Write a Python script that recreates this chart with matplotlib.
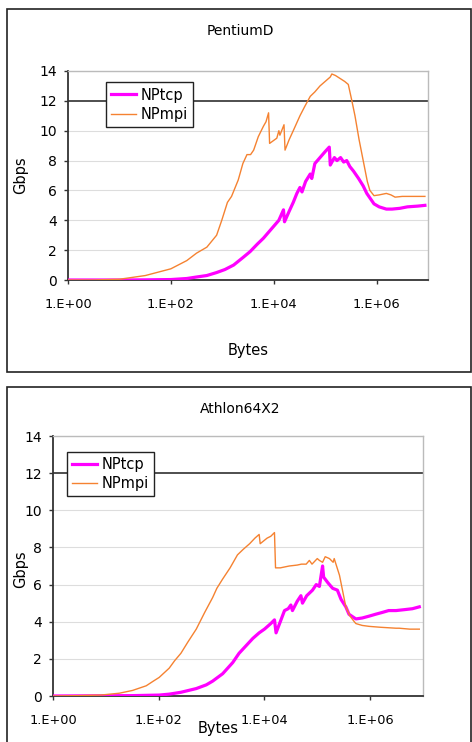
import matplotlib
matplotlib.use('Agg')
import matplotlib.pyplot as plt
from matplotlib.patches import Rectangle

plt.rcParams['font.family'] = ['DejaVu Sans']

# PentiumD
pd_mpi_bytes = [1, 3, 10, 32, 100, 204, 316, 501, 776, 977, 1259, 1514, 2042, 2512,
                 3020, 3548, 4074, 5012, 6310, 7079, 7943, 8318, 11482, 12589, 13183,
                 15849, 16596, 19953, 23988, 32359, 39811, 51286, 63096, 79433, 100000,
                 125893, 134896, 158489, 194984, 239883, 281838, 331131, 380189, 457088,
                 549541, 660693, 741310, 891251, 1122018, 1548817, 1905461, 2290868,
                 3162278, 4466836, 6309573, 8709636]
pd_mpi_gbps = [0, 0.0, 0.05, 0.3, 0.75, 1.3, 1.8, 2.2, 3.0, 4.0, 5.2, 5.6, 6.7, 7.8,
               8.4, 8.4, 8.7, 9.6, 10.3, 10.6, 11.2, 9.15, 9.5, 10.0, 9.7,
               10.4, 8.7, 9.4, 10.0, 11.0, 11.6, 12.3, 12.6, 13.0, 13.3,
               13.6, 13.8, 13.7, 13.5, 13.3, 13.1, 12.0, 11.0, 9.4,
               8.0, 6.6, 6.0, 5.65, 5.7, 5.8, 5.7, 5.55,
               5.6, 5.6, 5.6, 5.6]

pd_tcp_bytes = [1, 10, 32, 100, 204, 316, 501, 776, 1122, 1660, 2512, 3467, 4786, 6310,
                7943, 10000, 12589, 15488, 16218, 19953, 23988, 28184, 32359, 35481,
                41687, 51286, 54954, 63096, 79433, 100000, 120226, 125893, 151356,
                169824, 199526, 229087, 263027, 301995, 354813, 446684, 549541, 645654,
                741310, 891251, 1122018, 1548817, 1995262, 2818383, 3981072, 6309573,
                8709636]
pd_tcp_gbps = [0, 0.0, 0.01, 0.03, 0.1, 0.2, 0.3, 0.5, 0.7, 1.0, 1.5, 1.9, 2.4, 2.8,
               3.2, 3.6, 4.0, 4.7, 3.9, 4.6, 5.2, 5.8, 6.2, 5.9,
               6.6, 7.1, 6.8, 7.8, 8.2, 8.6, 8.9, 7.7, 8.2,
               8.0, 8.2, 7.9, 8.0, 7.6, 7.3, 6.8, 6.3, 5.8,
               5.5, 5.1, 4.9, 4.75, 4.75, 4.8, 4.9, 4.95,
               5.0]

# Athlon64X2
ath_mpi_bytes = [1, 3, 8, 18, 32, 58, 79, 102, 158, 200, 263, 355, 513, 741, 1047, 1259,
                 1622, 2239, 3090, 3981, 5248, 6607, 7943, 8318, 11220, 13183, 15488,
                 16218, 19953, 29512, 41687, 50119, 61660, 70795, 79433, 100000, 109648,
                 125893, 141254, 169824, 199526, 208930, 263027, 346737, 416869, 501187,
                 537032, 707946, 954993, 1584893, 3090295, 3548134, 5623413, 8511380]
ath_mpi_gbps = [0, 0.02, 0.05, 0.15, 0.3, 0.55, 0.8, 1.0, 1.5, 1.9, 2.3, 2.9, 3.6, 4.5, 5.3, 5.8,
                6.3, 6.9, 7.6, 7.9, 8.2, 8.5, 8.7, 8.2, 8.5, 8.6, 8.8,
                6.9, 6.9, 7.0, 7.05, 7.1, 7.1, 7.3, 7.1, 7.4, 7.3,
                7.2, 7.5, 7.4, 7.2, 7.4, 6.5, 4.8, 4.3, 4.0,
                3.9, 3.8, 3.75, 3.7, 3.65, 3.65, 3.6, 3.6]

ath_tcp_bytes = [1, 32, 102, 158, 263, 513, 794, 1047, 1622, 2512, 3311, 4467, 6026, 7943,
                 10000, 13183, 15488, 16596, 19953, 23988, 28184, 31623, 33884, 41687,
                 48978, 52481, 63096, 81283, 95499, 109648, 125893, 131826, 158489,
                 194984, 239883, 281838, 346737, 398107, 537032, 707946, 954993, 1258925,
                 1698244, 2238721, 3090295, 4466836, 6309573, 8511380]
ath_tcp_gbps = [0, 0.02, 0.05, 0.1, 0.2, 0.4, 0.6, 0.8, 1.2, 1.8, 2.3, 2.7, 3.1, 3.4,
                3.6, 3.9, 4.1, 3.4, 4.0, 4.6, 4.7, 4.9, 4.6, 5.1,
                5.4, 5.0, 5.4, 5.7, 6.0, 5.9, 7.0, 6.4, 6.1,
                5.8, 5.7, 5.2, 4.8, 4.4, 4.15, 4.2, 4.3, 4.4,
                4.5, 4.6, 4.6, 4.65, 4.7, 4.8]

yticks = [0, 2, 4, 6, 8, 10, 12, 14]
xticks = [1, 1e2, 1e4, 1e6]
xticklabels = ['1.E+00', '1.E+02', '1.E+04', '1.E+06']

W, H = 472, 742
fig = plt.figure(figsize=(W / 100, H / 100), dpi=100)
fig.patch.set_facecolor('white')

# panel borders
for (x0, y0, x1, y1) in [(7, 9, 471, 372), (7, 387, 471, 745)]:
    fig.patches.append(Rectangle((x0 / W, 1 - y1 / H), (x1 - x0) / W, (y1 - y0) / H,
                                 transform=fig.transFigure, fill=False,
                                 edgecolor='#222222', linewidth=1.2))


def panel(rect, title, title_xy, xlab_xy, ylab_xy, tcp_x, tcp_y, mpi_x, mpi_y, leg_anchor):
    ax = fig.add_axes(rect)
    ax.plot(tcp_x, tcp_y, color='#ff00ff', lw=2.3, label='NPtcp', zorder=3)
    ax.plot(mpi_x, mpi_y, color='#f58231', lw=1.0, label='NPmpi', zorder=4)
    ax.set_xscale('log')
    ax.set_xlim(1, 1e7)
    ax.set_ylim(0, 14)
    ax.set_yticks(yticks)
    ax.set_xticks(xticks)
    ax.set_xticklabels(xticklabels)
    ax.minorticks_off()
    for v in yticks[1:]:
        if v == 12:
            ax.axhline(v, color='#404040', lw=1.3, zorder=2)
        else:
            ax.axhline(v, color='#dddddd', lw=0.8, zorder=1)
    for s in ['left', 'bottom']:
        ax.spines[s].set_color('#333333')
        ax.spines[s].set_linewidth(1.3)
    for s in ['top', 'right']:
        ax.spines[s].set_color('#bbbbbb')
        ax.spines[s].set_linewidth(1.0)
    ax.tick_params(axis='y', length=3, width=1, pad=5, labelsize=10, color='#333333')
    ax.tick_params(axis='x', length=3, width=1, pad=10, labelsize=9.3, color='#333333')
    leg = ax.legend(loc='upper left', bbox_to_anchor=leg_anchor, fontsize=10.5,
                    fancybox=False, framealpha=1, edgecolor='#222222',
                    handlelength=1.7, borderpad=0.35, labelspacing=0.3,
                    handletextpad=0.3, borderaxespad=0)
    leg.get_frame().set_linewidth(1.0)
    leg.set_zorder(5)
    fig.text(title_xy[0], title_xy[1], title, ha='center', va='center', fontsize=10)
    fig.text(xlab_xy[0], xlab_xy[1], 'Bytes', ha='center', va='center', fontsize=10.5)
    fig.text(ylab_xy[0], ylab_xy[1], 'Gbps', ha='center', va='center', fontsize=10.5,
             rotation=90)
    return ax


panel([68 / W, 1 - 280 / H, 360 / W, 209 / H], 'PentiumD',
      (240 / W, 1 - 31 / H), (248 / W, 1 - 350 / H), (21 / W, 1 - 175 / H),
      pd_tcp_bytes, pd_tcp_gbps, pd_mpi_bytes, pd_mpi_gbps, (0.106, 0.945))

panel([53 / W, 1 - 696 / H, 370 / W, 260 / H], 'Athlon64X2',
      (240 / W, 1 - 409 / H), (218 / W, 1 - 729 / H), (21 / W, 1 - 569 / H),
      ath_tcp_bytes, ath_tcp_gbps, ath_mpi_bytes, ath_mpi_gbps, (0.038, 0.94))

fig.savefig('out.png', dpi=100)
